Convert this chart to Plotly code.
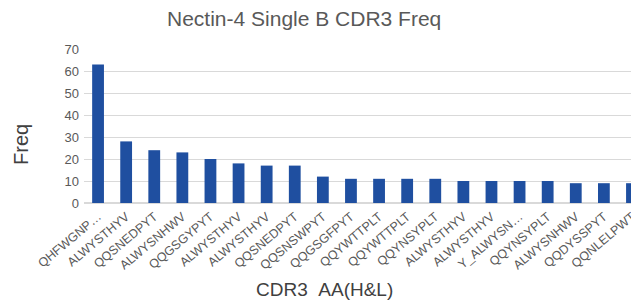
import plotly.graph_objects as go

labels = ["QHFWGNP…", "ALWYSTHYV", "QQSNEDPYT", "ALWYSNHWV", "QQGSGYPYT",
          "ALWYSTHYV", "ALWYSTHYV", "QQSNEDPYT", "QQSNSWPYT", "QQGSGFPYT",
          "QQYWTTPLT", "QQYWTTPLT", "QQYNSYPLT", "ALWYSTHYV", "ALWYSTHYV",
          "Y_ALWYSN…", "QQYNSYPLT", "ALWYSNHWV", "QQDYSSPYT", "QQNLELPWT"]
freq = [63, 28, 24, 23, 20, 18, 17, 17, 12, 11, 11, 11, 11, 10, 10, 10, 10, 9, 9, 9]
yticks = [0, 10, 20, 30, 40, 50, 60, 70]

idx = list(range(len(labels)))
gray = "#595959"
font = "Liberation Sans, Arial, sans-serif"

OFF = 8  # page body margin
W, H = 639 - OFF, 302 - OFF
# screen coordinates of plot area
SL, ST, SB, SR = 84, 49, 203, 639
L, T = SL - OFF, ST - OFF
B = H - (SB - OFF)
R = W - (SR - OFF)
PW, PH = SR - SL, SB - ST


def px(x):
    return (x - SL) / PW


def py(y):
    return (SB - y) / PH


fig = go.Figure(go.Bar(x=idx, y=freq, marker=dict(color="#1f4fa0", line=dict(width=0)), width=0.42))

fig.update_layout(
    width=W, height=H,
    margin=dict(l=L, r=R, t=T, b=B, autoexpand=False),
    paper_bgcolor="white", plot_bgcolor="white",
    font=dict(family=font, color=gray),
    showlegend=False,
    xaxis=dict(range=[-0.5, 19.25], tickvals=idx, ticktext=labels, tickangle=-40,
               tickfont=dict(size=12.5, color=gray), showgrid=False, zeroline=False,
               showline=False, ticks="", fixedrange=True, automargin=False,
               ticklabelstandoff=3),
    yaxis=dict(range=[0, 70], tickvals=yticks, tickfont=dict(size=13, color=gray),
               gridcolor="#d9d9d9", gridwidth=1, zeroline=True, zerolinecolor="#d9d9d9",
               ticks="", showline=False, automargin=False, ticklabelstandoff=4),
)
fig.add_annotation(text="Nectin-4 Single B CDR3 Freq", xref="paper", yref="paper",
                   x=px(304), y=py(18), xanchor="center", yanchor="middle",
                   showarrow=False, font=dict(size=21, color=gray))
fig.add_annotation(text="Freq", xref="paper", yref="paper", x=px(21), y=py(145),
                   textangle=-90, showarrow=False, xanchor="center", yanchor="middle",
                   font=dict(size=20, color="#404040"))
fig.add_annotation(text="CDR3&nbsp;&nbsp;AA(H&L)", xref="paper", yref="paper", x=px(324), y=py(289),
                   showarrow=False, xanchor="center", yanchor="middle",
                   font=dict(size=19, color="#404040"))
fig.write_html("out.html")
